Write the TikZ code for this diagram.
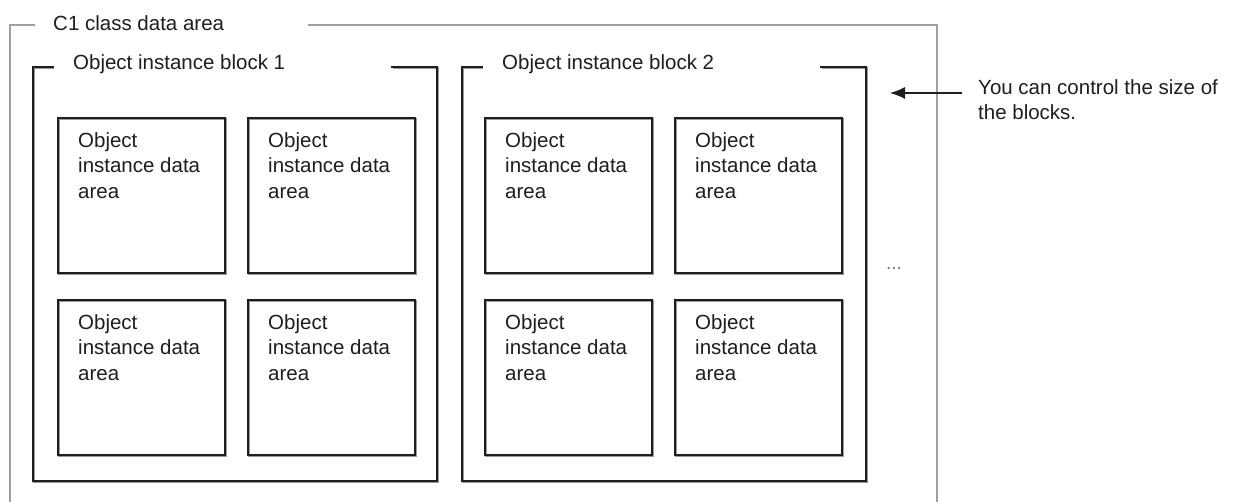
\documentclass[tikz,border=0pt]{standalone}
\usepackage{fontspec}
\setmainfont{Liberation Sans}
\usetikzlibrary{arrows.meta}
\definecolor{framegray}{HTML}{A0A0A0}
\definecolor{ink}{HTML}{1E1E1E}
\definecolor{shade}{HTML}{9A9A9A}
\begin{document}
\begin{tikzpicture}[x=1pt,y=-1pt,
  outerline/.style={draw=framegray,line width=1.6pt},
  blockline/.style={draw=ink,line width=1.5pt,line cap=rect,
    preaction={draw=shade,line width=1.5pt,transform canvas={shift={(1.2pt,-1.2pt)}}}},
  areabox/.style={draw=ink,line width=1.5pt,
    preaction={draw=shade,line width=1.5pt,transform canvas={shift={(1.2pt,-1.2pt)}}}},
  lbl/.style={font=\fontsize{20.5}{25.5}\selectfont,text=ink,inner sep=0pt},
  arealbl/.style={lbl,align=left,anchor=north west},
  titlelbl/.style={lbl,anchor=base west}
]
\useasboundingbox[fill=white] (0,0) rectangle (1238,502);

% outer class data area frame (open at bottom)
\draw[outerline] (10,502) -- (10,25) -- (35,25);
\draw[outerline] (308,25) -- (937,25) -- (937,502);
\node[titlelbl] (c1title) at (53,31) {C1 class data area};

% block 1
\draw[blockline] (53,67) -- (33,67) -- (33,481) -- (437,481) -- (437,67) -- (392,67);
\node[titlelbl] (b1title) at (73,70) {Object instance block 1};

% block 2
\draw[blockline] (482,67) -- (462,67) -- (462,481) -- (866,481) -- (866,67) -- (821,67);
\node[titlelbl] (b2title) at (502,70) {Object instance block 2};

% object instance data areas
\foreach \bx/\nm in {58/a, 248/b, 485/c, 675/d}{
  \foreach \by/\rw in {118/1, 300/2}{
    \draw[areabox] (\bx,\by) rectangle ++(167,155);
    \node[arealbl] (area\nm\rw) at (\bx+20,\by+14) {Object\\instance data\\area};
  }
}

% continuation dots
\node[font=\fontsize{19}{22}\selectfont,text=black!55,inner sep=0pt] (dots) at (894,268) {...};

% note and arrow
\node[lbl,align=left,anchor=north west] (note) at (978,79) {You can control the size of\\the blocks.};
\coordinate (tail) at (962,93);
\coordinate (tip) at (890,93);
\draw[draw=ink,line width=1.2pt,-{Latex[length=15pt,width=12pt]}] (tail) -- (tip);
\end{tikzpicture}
\end{document}
